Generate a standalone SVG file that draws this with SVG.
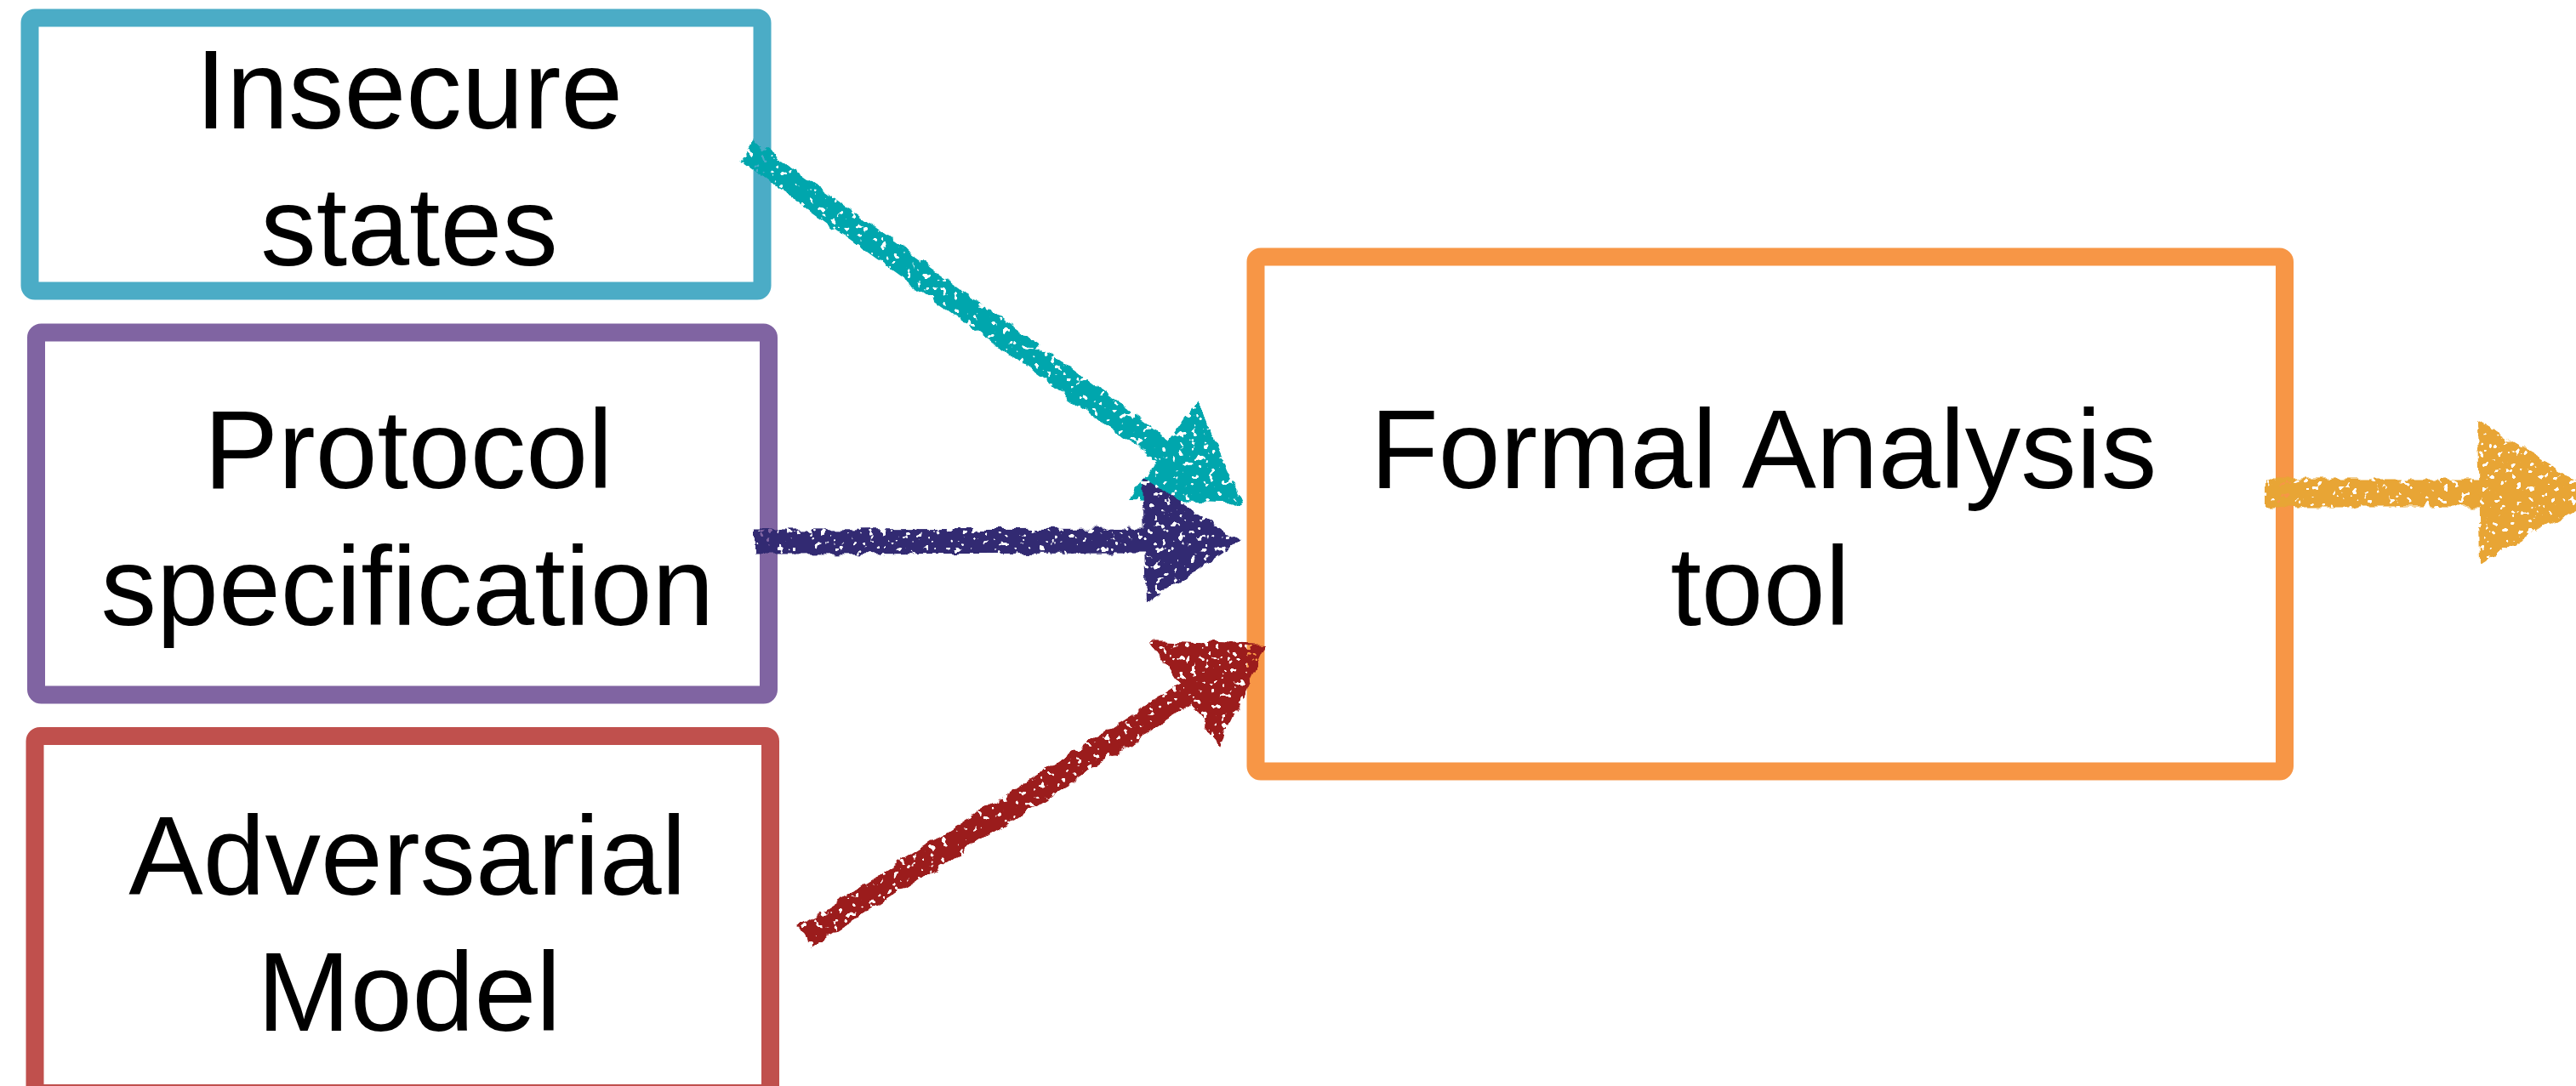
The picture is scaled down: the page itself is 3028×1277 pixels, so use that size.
<svg xmlns="http://www.w3.org/2000/svg" width="3028" height="1277" viewBox="0 0 3028 1277">
<style>
.box{fill:#FFFFFF;stroke-width:21}
.lbl{font-family:"Liberation Sans",Arial,Helvetica,sans-serif;font-size:131px;fill:#000000;text-anchor:middle}
.shaft{fill:none;stroke-linecap:butt}
</style>
<defs>
<filter id="chalk" filterUnits="userSpaceOnUse" x="0" y="0" width="3100" height="1277">
<feTurbulence type="fractalNoise" baseFrequency="0.06" numOctaves="2" seed="3" result="n"/>
<feDisplacementMap in="SourceGraphic" in2="n" scale="12" xChannelSelector="R" yChannelSelector="G" result="d"/>
<feTurbulence type="fractalNoise" baseFrequency="0.14" numOctaves="2" seed="11" result="n2"/>
<feColorMatrix in="n2" type="matrix" values="0 0 0 0 0  0 0 0 0 0  0 0 0 0 0  0 0 0 -22 15.2" result="holes"/>
<feComposite in="d" in2="holes" operator="in"/>
</filter>
</defs>
<rect width="3028" height="1277" fill="#FFFFFF"/>
<g id="insecure-states">
<rect class="box" x="35" y="21" width="861" height="321" rx="6" stroke="#4BACC6"/>
<text class="lbl" x="481" y="151">Insecure</text>
<text class="lbl" x="481" y="312">states</text>
</g>
<g id="protocol-specification">
<rect class="box" x="42.5" y="391" width="861" height="426" rx="6" stroke="#8064A2"/>
<text class="lbl" x="480" y="574">Protocol</text>
<text class="lbl" x="479" y="735">specification</text>
</g>
<g id="adversarial-model">
<rect class="box" x="41" y="865.5" width="864.5" height="420" rx="6" stroke="#C0504D"/>
<text class="lbl" x="479" y="1052">Adversarial</text>
<text class="lbl" x="481" y="1212">Model</text>
</g>
<g id="formal-analysis-tool">
<rect class="box" x="1476" y="302" width="1209.5" height="605" rx="6" stroke="#F79646" stroke-width="22"/>
<text class="lbl" x="2073" y="574">Formal Analysis</text>
<text class="lbl" x="2069" y="735">tool</text>
</g>
<g id="connectors" filter="url(#chalk)">
<g id="arrow-insecure">
<path class="shaft" d="M878,176 L1370,532" stroke="#00A6AD" stroke-width="29"/>
<polygon points="1407,472 1462,593 1327,588" fill="#00A6AD"/>
</g>
<g id="arrow-protocol">
<path class="shaft" d="M887,637 L1350,636" stroke="#312A72" stroke-width="29"/>
<polygon points="1344,562 1458,636 1348,710" fill="#312A72"/>
</g>
<g id="arrow-adversarial">
<path class="shaft" d="M946,1102 L1398,814" stroke="#9B1B1B" stroke-width="29"/>
<polygon points="1353,753 1489,758 1434,877" fill="#9B1B1B"/>
</g>
<g id="arrow-output">
<path class="shaft" d="M2663,580 L2916,580" stroke="#E8A535" stroke-width="33"/>
<polygon points="2912,495 3059,582 2915,663" fill="#E8A535"/>
</g>
</g>
</svg>
